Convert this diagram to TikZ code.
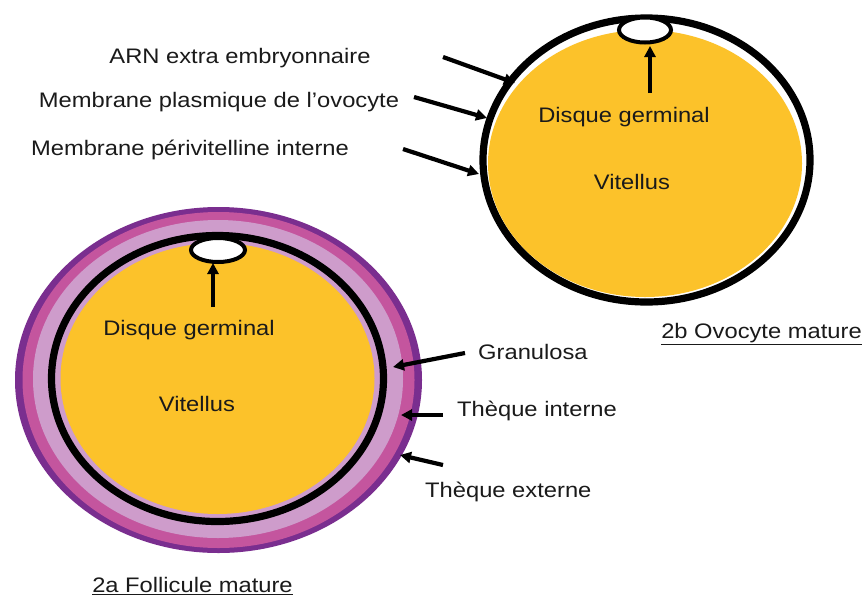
\documentclass[tikz,border=0pt]{standalone}
\usepackage{fontspec}
\usepackage{graphicx}
\setmainfont{Liberation Sans}
\usetikzlibrary{arrows.meta}
\definecolor{vitellus}{HTML}{FCC22A}
\definecolor{thexterne}{HTML}{7A2E8F}
\definecolor{thinterne}{HTML}{C4559E}
\definecolor{granulosa}{HTML}{CE9CCB}
\definecolor{ink}{HTML}{1A1A1A}
\newcommand{\wlabel}[1]{\scalebox{1.13}[1]{#1}}
\tikzset{
  lbl/.style={inner sep=0pt, text=ink, font=\fontsize{21}{25}\selectfont},
  pointer/.style={line width=4.2pt, draw=black, -{Triangle[length=11pt,width=11pt]}},
  ring/.style={line width=7.2pt, draw=black},
  germdisc/.style={line width=4pt, draw=black, fill=white}
}
\begin{document}
\begin{tikzpicture}[x=1pt,y=-1pt]
\useasboundingbox (0,0) rectangle (866,603);
\fill[white] (0,0) rectangle (866,603);

% ---------- 2a : mature follicle ----------
\fill[thexterne] (218.5,380) ellipse [x radius=203.5, y radius=173];
\fill[thinterne] (218.5,380) ellipse [x radius=196, y radius=168];
\fill[granulosa] (218,379) ellipse [x radius=185, y radius=159];
\draw[ring] (217.5,378.5) ellipse [x radius=166, y radius=143];
\fill[vitellus] (217.5,378.5) ellipse [x radius=157, y radius=135.5];
\draw[germdisc] (218,250) ellipse [x radius=27, y radius=12];

\node[lbl] (dgA) at (189,330) {\wlabel{Disque germinal}};
\node[lbl] (vitA) at (197,404) {\wlabel{Vitellus}};
\coordinate (dgAtail) at (213,307);
\coordinate (dgAtip) at (213,263);
\draw[pointer] (dgAtail) -- (dgAtip);

\node[lbl, anchor=west] (gran) at (478,352) {\wlabel{Granulosa}};
\node[lbl, anchor=west] (thi) at (457,411) {\wlabel{Thèque interne}};
\node[lbl, anchor=west] (the) at (425,492) {\wlabel{Thèque externe}};
\coordinate (granS) at (465,353);
\coordinate (granT) at (393,367);
\coordinate (thiS) at (443,415);
\coordinate (thiT) at (401,415);
\coordinate (theS) at (443,465);
\coordinate (theT) at (400,455);
\draw[pointer] (granS) -- (granT);
\draw[pointer] (thiS) -- (thiT);
\draw[pointer] (theS) -- (theT);

\node[lbl] (titA) at (192.5,586) {\wlabel{\underline{2a Follicule mature}}};

% ---------- 2b : mature oocyte ----------
\draw[ring, fill=white] (646.5,160) ellipse [x radius=163.5, y radius=142];
\fill[vitellus] (645,163.5) ellipse [x radius=157, y radius=133.5];
\draw[germdisc] (645,30) ellipse [x radius=26, y radius=12.5];

\node[lbl] (dgB) at (624,117) {\wlabel{Disque germinal}};
\node[lbl] (vitB) at (632,182) {\wlabel{Vitellus}};
\coordinate (dgBtail) at (650,93);
\coordinate (dgBtip) at (650,46);
\draw[pointer] (dgBtail) -- (dgBtip);

\node[lbl] (arn) at (240,58) {\wlabel{ARN extra embryonnaire}};
\node[lbl] (mpo) at (219,102) {\wlabel{Membrane plasmique de l’ovocyte}};
\node[lbl] (mpi) at (190,150) {\wlabel{Membrane périvitelline interne}};
\coordinate (arnS) at (443,57);
\coordinate (arnT) at (515,83);
\coordinate (mpoS) at (414,97);
\coordinate (mpoT) at (487,118);
\coordinate (mpiS) at (403,149);
\coordinate (mpiT) at (479,174);
\draw[pointer] (arnS) -- (arnT);
\draw[pointer] (mpoS) -- (mpoT);
\draw[pointer] (mpiS) -- (mpiT);

\node[lbl] (titB) at (761.5,334) {\wlabel{\underline{2b Ovocyte mature}}};
\end{tikzpicture}
\end{document}
